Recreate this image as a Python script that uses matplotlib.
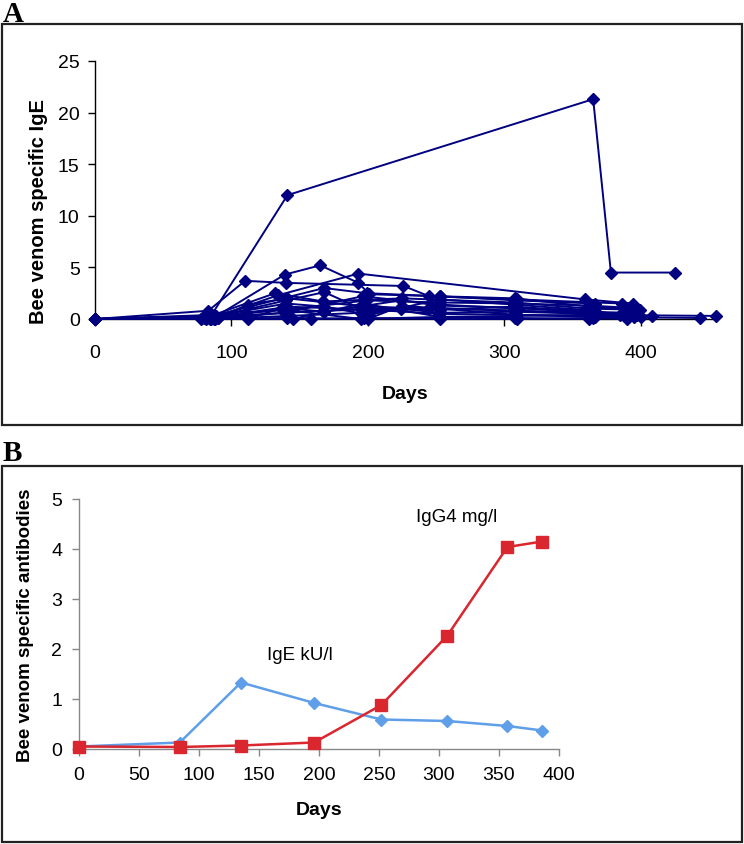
import matplotlib
matplotlib.use("Agg")
import matplotlib.pyplot as plt
from matplotlib.patches import Rectangle

plt.rcParams['font.family'] = ['Liberation Sans', 'DejaVu Sans']

# ---------------- Panel A data (per patient) ----------------
days_a = [
    [0, 85, 141, 365, 378, 425],
    [0, 88, 139, 165, 193, 201, 253, 309, 366],
    [0, 83, 110, 140, 226, 245, 309, 386],
    [0, 86, 134, 193, 359, 394],
    [0, 80, 168, 199, 253, 308, 362, 390],
    [0, 87, 132, 167, 225, 307, 363, 399],
    [0, 90, 112, 141, 198, 253, 309, 365, 388],
    [0, 82, 140, 168, 195, 253, 308, 361, 392],
    [0, 78, 112, 140, 202, 252, 307, 364, 408],
    [0, 85, 141, 200, 225, 309, 366, 443],
    [0, 88, 145, 196, 253, 308, 362, 395],
    [0, 90, 158, 197, 253, 309, 365, 390],
    [0, 84, 139, 196, 252, 310, 359, 385],
    [0, 86, 167, 224, 253, 308, 364, 400],
    [0, 81, 111, 138, 195, 252, 308, 362, 455],
    [0, 89, 140, 168, 201, 253, 307, 366],
    [0, 84, 137, 168, 224, 252, 307, 362, 393],
    [0, 87, 142, 195, 245, 308, 366, 397],
    [0, 79, 140, 199, 253, 309, 363, 389],
]
ige_a = [
    [0, 0.3, 12.0, 21.3, 4.5, 4.5],
    [0, 0.2, 4.3, 5.2, 3.5, 2.4, 2.2, 1.8, 1.5],
    [0, 0.8, 3.7, 3.5, 3.2, 2.2, 1.9, 1.5],
    [0, 0.1, 2.3, 4.4, 1.9, 1.5],
    [0, 0.1, 3.0, 2.5, 2.2, 2.0, 1.2, 1.0],
    [0, 0.4, 2.5, 1.7, 2.0, 1.6, 1.0, 0.9],
    [0, 0.1, 1.4, 2.0, 1.2, 1.0, 0.8, 0.5, 0.3],
    [0, 0.05, 1.8, 2.6, 1.0, 0.9, 1.2, 0.7, 0.6],
    [0, 0.0, 0.0, 1.2, 0.9, 0.5, 0.4, 0.3, 0.3],
    [0, 0.0, 0.1, 0.0, 1.3, 0.4, 0.2, 0.1],
    [0, 0.0, 0.0, 1.5, 0.2, 0.1, 0.0, 0.2],
    [0, 0.1, 0.0, 0.1, 0.0, 0.0, 0.1, 0.0],
    [0, 0.0, 0.6, 2.2, 1.4, 1.0, 0.9, 0.4],
    [0, 0.2, 0.8, 1.0, 0.6, 0.7, 0.5, 0.2],
    [0, 0.0, 0.6, 0.9, 0.0, 0.2, 0.3, 0.4, 0.3],
    [0, 0.3, 1.5, 1.2, 0.4, 1.9, 1.4, 0.8],
    [0, 0.1, 1.1, 0.7, 1.8, 1.3, 1.1, 0.6, 0.5],
    [0, 0.0, 0.3, 0.6, 1.1, 0.8, 0.6, 0.4],
    [0, 0.2, 0.9, 1.8, 1.6, 1.5, 1.3, 1.1],
]
xticks_a = [0, 100, 200, 300, 400]
yticks_a = [0, 5, 10, 15, 20, 25]

# ---------------- Panel B data ----------------
days_b = [0, 84, 135, 196, 252, 307, 357, 386]
ige_b = [0.05, 0.13, 1.33, 0.92, 0.59, 0.56, 0.46, 0.37]
igg4_b = [0.05, 0.04, 0.07, 0.13, 0.88, 2.27, 4.04, 4.15]
xticks_b = [0, 50, 100, 150, 200, 250, 300, 350, 400]
yticks_b = [0, 1, 2, 3, 4, 5]

W, H = 744, 845
fig = plt.figure(figsize=(W / 100, H / 100), dpi=100)

def fx(px):
    return px / W

def fy(py):
    return 1 - py / H

# frames
for (x0, y0, x1, y1) in [(2, 25, 742, 426), (2, 467, 742, 843)]:
    fig.patches.append(Rectangle((fx(x0), fy(y1)), fx(x1 - x0), (y1 - y0) / H,
                                 transform=fig.transFigure, fill=False,
                                 edgecolor='#222222', linewidth=1.6))

fig.text(fx(3), fy(1), 'A', family='Liberation Serif', fontweight='bold',
         fontsize=21, va='top', ha='left')
fig.text(fx(3), fy(440), 'B', family='Liberation Serif', fontweight='bold',
         fontsize=21, va='top', ha='left')

TICK_FS = 14
LAB_FS = 14

# ---------------- Panel A ----------------
axA = fig.add_axes([fx(95), fy(320), fx(716 - 95), (320 - 62) / H])
navy = '#000080'
for d, v in zip(days_a, ige_a):
    axA.plot(d, v, color=navy, linewidth=1.4, marker='D', markersize=6.5,
             clip_on=False, zorder=3)
axA.set_xlim(0, 455)
axA.set_ylim(0, 25)
axA.set_xticks(xticks_a)
axA.set_yticks(yticks_a)
for s in ['top', 'right']:
    axA.spines[s].set_visible(False)
for s in ['left', 'bottom']:
    axA.spines[s].set_color('black')
    axA.spines[s].set_linewidth(1.0)
axA.tick_params(axis='y', direction='out', length=5, width=1,
                labelsize=TICK_FS, colors='black', pad=6)
axA.tick_params(axis='x', direction='out', length=5, width=1,
                labelsize=TICK_FS, colors='black', pad=13)
axA.set_ylabel('Bee venom specific IgE', fontweight='bold', fontsize=14.5)
axA.yaxis.set_label_coords(-0.076, 0.42)
axA.set_xlabel('Days', fontweight='bold', fontsize=LAB_FS)
axA.xaxis.set_label_coords(0.5, -0.255)

# ---------------- Panel B ----------------
axB = fig.add_axes([fx(79), fy(750), fx(559 - 79), (750 - 500) / H])
axB.plot(days_b, ige_b, color='#5f9ee8', linewidth=1.8, marker='D',
         markersize=6, clip_on=False, zorder=3)
axB.plot(days_b, igg4_b, color='#d9262f', linewidth=1.8, marker='s',
         markersize=8, clip_on=False, zorder=4)
axB.set_xlim(0, 400)
axB.set_ylim(0, 5)
axB.set_xticks(xticks_b)
axB.set_yticks(yticks_b)
for s in ['top', 'right']:
    axB.spines[s].set_visible(False)
for s in ['left', 'bottom']:
    axB.spines[s].set_color('#888888')
    axB.spines[s].set_linewidth(1.0)
axB.tick_params(direction='out', length=5, width=1, labelsize=TICK_FS,
                color='#888888', labelcolor='black', pad=7)
axB.set_ylabel('Bee venom specific antibodies', fontweight='bold',
               fontsize=13.5)
axB.yaxis.set_label_coords(-0.094, 0.5)
axB.set_xlabel('Days', fontweight='bold', fontsize=LAB_FS)
axB.xaxis.set_label_coords(0.5, -0.21)
axB.text(184, 1.88, 'IgE kU/l', fontsize=13.5, ha='center', va='center')
axB.text(315, 4.64, 'IgG4 mg/l', fontsize=13.5, ha='center', va='center')

fig.savefig('out.png', dpi=100)
